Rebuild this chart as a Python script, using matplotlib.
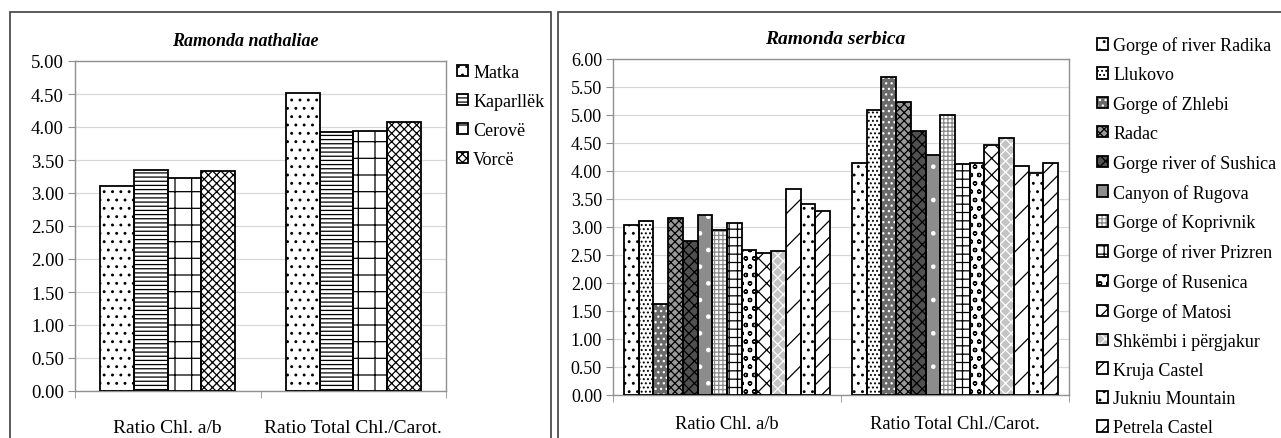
import matplotlib
matplotlib.use("Agg")
import matplotlib.pyplot as plt
from matplotlib.patches import Rectangle
import numpy as np

plt.rcParams['font.family'] = ['Liberation Serif', 'DejaVu Serif']
plt.rcParams['hatch.linewidth'] = 0.9

# ---------------- data ----------------
categories = ["Ratio Chl. a/b", "Ratio Total Chl./Carot."]

nath_sites = ["Matka", "Kaparllëk", "Cerovë", "Vorcë"]
nath_chl_ab = [3.11, 3.35, 3.22, 3.33]
nath_chl_car = [4.52, 3.92, 3.94, 4.07]

serb_sites = ["Gorge of river Radika", "Llukovo", "Gorge of Zhlebi", "Radac",
              "Gorge river of Sushica", "Canyon of Rugova", "Gorge of Koprivnik",
              "Gorge of river Prizren", "Gorge of Rusenica", "Gorge of Matosi",
              "Shkëmbi i përgjakur", "Kruja Castel", "Jukniu Mountain", "Petrela Castel"]
serb_chl_ab = [3.03, 3.10, 1.63, 3.16, 2.75, 3.21, 2.94, 3.06, 2.59, 2.54, 2.57, 3.68, 3.40, 3.29]
serb_chl_car = [4.15, 5.08, 5.68, 5.24, 4.71, 4.28, 5.00, 4.13, 4.15, 4.47, 4.59, 4.08, 3.97, 4.15]

left_ticks = [0, 0.5, 1, 1.5, 2, 2.5, 3, 3.5, 4, 4.5, 5]
right_ticks = [0, 0.5, 1, 1.5, 2, 2.5, 3, 3.5, 4, 4.5, 5, 5.5, 6]

# ---------------- styles ----------------
nath_styles = [  # (face, hatchcolor, hatch)
    ("white", "black", ".."),
    ("white", "black", "----"),
    ("white", "black", "+"),
    ("white", "black", "xxxx"),
]
serb_styles = [
    ("white", "black", ".."),
    ("white", "black", "...."),
    ("#6a6a6a", "white", "..."),
    ("#9a9a9a", "black", "xxxx"),
    ("#505050", "black", "xxx"),
    ("#8c8c8c", "white", "."),
    ("white", "#8a8a8a", "++++"),
    ("white", "black", "++"),
    ("white", "black", "oo"),
    ("white", "black", "xx"),
    ("#c4c4c4", "white", "xxx"),
    ("white", "black", "/"),
    ("white", "black", ".."),
    ("white", "black", "//"),
]

W, H = 1281, 439
fig = plt.figure(figsize=(W / 100, H / 100), dpi=100)

# chart-area frames
fig.add_artist(Rectangle((10 / W, -0.1), 541 / W, 1.1 - 13 / H, transform=fig.transFigure,
                         fill=False, edgecolor="#404040", linewidth=1.2))
fig.add_artist(Rectangle((558 / W, -0.1), 1.2, 1.1 - 13 / H, transform=fig.transFigure,
                         fill=False, edgecolor="#404040", linewidth=1.2))


def draw_panel(ax, sites, values_a, values_b, styles, ymax, ticks, tickfs, catfs, catpad):
    n = len(sites)
    width = 1.0 / (n + 1.5)
    x = np.arange(len(categories))
    handles = []
    for i, site in enumerate(sites):
        vals = [values_a[i], values_b[i]]
        pos = x + (i - (n - 1) / 2) * width
        face, hcol, hatch = styles[i]
        b1 = ax.bar(pos, vals, width, color=face, edgecolor=hcol, hatch=hatch,
                    linewidth=0, zorder=3)
        b2 = ax.bar(pos, vals, width, fill=False, edgecolor="black", linewidth=1.3,
                    zorder=4, label=site)
        handles.append((b1.patches[0], b2.patches[0]))
    ax.set_xlim(-0.5, 1.5)
    ax.set_ylim(0, ymax)
    ax.set_yticks(ticks)
    ax.set_yticklabels([f"{t:.2f}" for t in ticks], fontsize=tickfs)
    ax.set_xticks(x)
    ax.set_xticklabels(categories, fontsize=catfs)
    ax.set_xticks([-0.5, 0.5, 1.5], minor=True)
    ax.tick_params(axis="x", which="major", length=0, pad=catpad)
    ax.tick_params(axis="x", which="minor", length=5, color="#909090")
    ax.tick_params(axis="y", length=5, color="#909090", pad=3)
    ax.yaxis.grid(True, color="#d8d8d8", linewidth=0.9, zorder=0)
    ax.set_axisbelow(True)
    for s in ax.spines.values():
        s.set_color("#909090")
        s.set_linewidth(1.0)
    return handles


axL = fig.add_axes([75 / W, 1 - 392 / H, 371 / W, 330 / H])
hL = draw_panel(axL, nath_sites, nath_chl_ab, nath_chl_car, nath_styles, 5, left_ticks,
                13.5, 14, 20)
axR = fig.add_axes([613 / W, 1 - 395.7 / H, 456 / W, 335.7 / H])
hR = draw_panel(axR, serb_sites, serb_chl_ab, serb_chl_car, serb_styles, 6, right_ticks,
                13, 13.3, 14.5)

fig.text(245 / W, 1 - 41 / H, "Ramonda nathaliae", ha="center", va="center",
         fontsize=13, fontweight="bold", fontstyle="italic")
fig.text(835 / W, 1 - 40 / H, "Ramonda serbica", ha="center", va="center",
         fontsize=14, fontweight="bold", fontstyle="italic")

fig.legend(hL, nath_sites, loc="upper left", bbox_to_anchor=(457 / W, 1 - 65 / H),
           frameon=False, fontsize=13, handlelength=0.6, handleheight=0.6,
           handletextpad=0.3, labelspacing=0.66, borderpad=0, borderaxespad=0)
fig.legend(hR, serb_sites, loc="upper left", bbox_to_anchor=(1097 / W, 1 - 37.5 / H),
           frameon=False, fontsize=13, handlelength=0.6, handleheight=0.6,
           handletextpad=0.3, labelspacing=0.66, borderpad=0, borderaxespad=0)

fig.savefig("out.png", dpi=100)
